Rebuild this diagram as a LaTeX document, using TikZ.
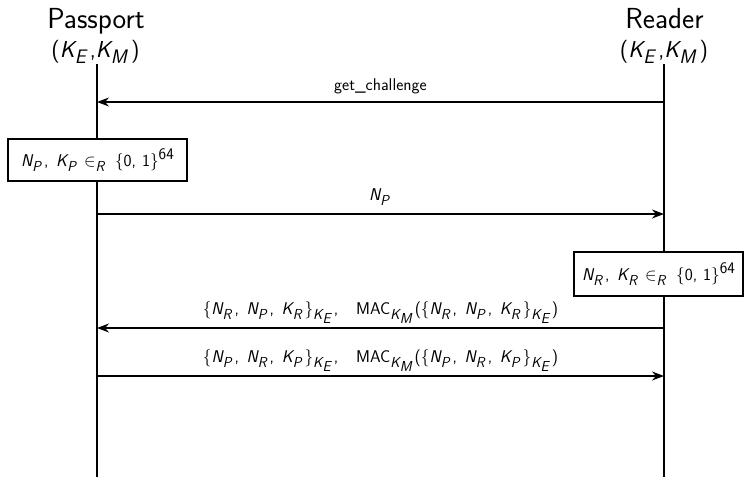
\documentclass[tikz,border=0pt]{standalone}
\usepackage{graphicx}
\usepackage{fontspec}
\usetikzlibrary{arrows.meta}
% sans italic variable with subscript
\newcommand\vi[1]{{\itshape #1}}
\newcommand\sbx[1]{\raisebox{-0.3em}{\scalebox{0.85}{#1}}\kern0.18em}
\newcommand\sbi[1]{\raisebox{-0.3em}{#1}}
\newcommand\spx[1]{\raisebox{0.42em}{\scalebox{0.95}{#1}}}
\newcommand\vs[2]{\vi{#1}\sbx{\vi{#2}}}
\newcommand\vsn[2]{\vi{#1}\sbi{\vi{#2}}}
\newcommand\lb{$\{$}
\newcommand\rb{$\}$}
\newcommand\cs{,\hspace{0.45em}}
\begin{document}
\begin{tikzpicture}[x=1pt,y=-1pt,
  actor/.style={font=\fontsize{29}{31}\selectfont\sffamily, inner sep=0pt, anchor=base},
  keys/.style={font=\fontsize{23}{26}\selectfont\sffamily, inner sep=0pt, anchor=base},
  life/.style={line width=1.4pt},
  msg/.style={line width=1.4pt, -{Stealth[length=12pt,width=9pt]}},
  lbl/.style={font=\fontsize{17}{19}\selectfont\sffamily, inner sep=0pt, midway, anchor=base, yshift=14pt},
  calc/.style={draw, line width=1.4pt, fill=white, font=\fontsize{17}{19}\selectfont\sffamily, inner sep=0pt}]
\useasboundingbox (0,0) rectangle (753,477);
% actors
\node[actor] (P) at (96,28) {Passport};
\node[keys] (PK) at (95.5,57) {(\vs{K}{E},\vs{K}{M})};
\node[actor] (R) at (664.5,28) {Reader};
\node[keys] (RK) at (664,57) {(\vs{K}{E},\vs{K}{M})};
% lifelines
\coordinate (Ptop) at (97,64);
\coordinate (Pbot) at (97,477);
\coordinate (Rtop) at (664,64);
\coordinate (Rbot) at (664,477);
\draw[life] (Ptop) -- (Pbot);
\draw[life] (Rtop) -- (Rbot);
% message points
\coordinate (p1) at (97,102);  \coordinate (r1) at (664,102);
\coordinate (p2) at (97,214);  \coordinate (r2) at (664,214);
\coordinate (p3) at (97,328);  \coordinate (r3) at (664,328);
\coordinate (p4) at (97,376);  \coordinate (r4) at (664,376);
% messages
\draw[msg] (r1) -- node[lbl, yshift=-2pt] {get\_challenge} (p1);
\node[calc, minimum width=179pt, minimum height=42pt] (B1) at (97.5,160)
  {\vs{N}{P}\cs\vs{K}{P}\hspace{0.3em}$\in$\sbx{\vi{R}}\hspace{0.45em}\lb0,\hspace{0.35em}1\rb\spx{64}};
\draw[msg] (p2) -- node[lbl] {\vs{N}{P}} (r2);
\node[calc, minimum width=169pt, minimum height=44pt] (B2) at (658.5,274)
  {\vs{N}{R}\cs\vs{K}{R}\hspace{0.3em}$\in$\sbx{\vi{R}}\hspace{0.45em}\lb0,\hspace{0.35em}1\rb\spx{64}};
\draw[msg] (r3) -- node[lbl] {\lb\vs{N}{R}\cs\vs{N}{P}\cs\vs{K}{R}\rb\sbx{\vsn{K}{E}},\hspace{1.05em}MAC\sbx{\vsn{K}{M}}(\lb\vs{N}{R}\cs\vs{N}{P}\cs\vs{K}{R}\rb\sbx{\vsn{K}{E}})} (p3);
\draw[msg] (p4) -- node[lbl] {\lb\vs{N}{P}\cs\vs{N}{R}\cs\vs{K}{P}\rb\sbx{\vsn{K}{E}},\hspace{1.05em}MAC\sbx{\vsn{K}{M}}(\lb\vs{N}{P}\cs\vs{N}{R}\cs\vs{K}{P}\rb\sbx{\vsn{K}{E}})} (r4);
\end{tikzpicture}
\end{document}
